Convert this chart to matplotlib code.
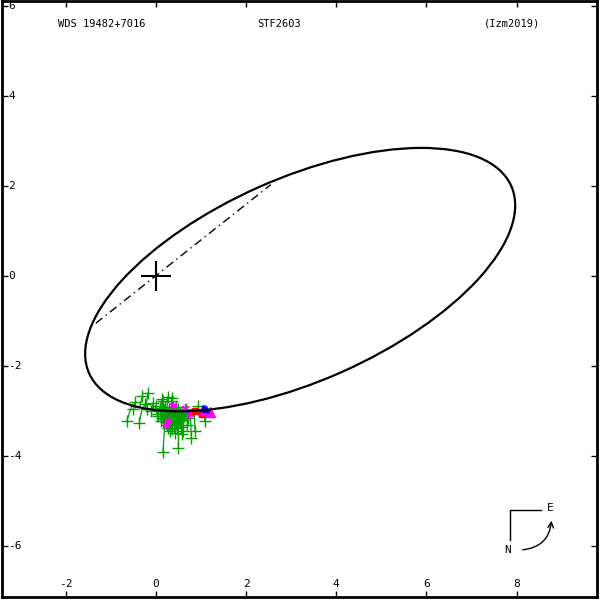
import numpy as np
import matplotlib.pyplot as plt
from matplotlib.patches import Ellipse

plt.rcParams['font.family'] = ['DejaVu Sans Mono']

# apparent orbit: centre, semi-axes, tilt of major axis (deg)
orb_center = (3.2, -0.08)
orb_a = 5.12
orb_b = 2.25
orb_angle = 24.0

# line of nodes
node_x = [-1.33, 2.55]
node_y = [-1.05, 2.03]

# micrometer / visual measures (green)
obs_x = [-0.30, -0.17, -0.50, -0.64, -0.37, 0.16, 0.50, 0.79, 0.87, 0.94,
         1.09, 0.26, 0.37, 0.13, -0.06, 0.72, 0.53, 0.02, 0.46, 0.31,
         0.61, 0.09, 0.24, 0.16, 0.35, 0.20, 0.30, 0.35, 0.40, 0.45,
         0.50, 0.55, 0.25, 0.40, 0.30, 0.15, 0.60, 0.50, 0.35, 0.65,
         0.10, -0.10, 0.70, 0.45, 0.20, -0.25, 0.05, 0.58, 0.42, 0.28,
         0.18, 0.33, 0.48, 0.38, 0.22, 0.55, 0.12, 0.43, 0.27, 0.62,
         -0.45, -0.20, 0.00, 0.68, 0.52]
obs_y = [-2.67, -2.59, -2.96, -3.22, -3.27, -3.91, -3.82, -3.59, -3.44, -2.89,
         -3.22, -2.69, -2.78, -2.74, -2.82, -3.15, -3.04, -3.07, -3.37, -3.44,
         -3.44, -2.93, -3.22, -2.78, -2.70, -3.18, -3.10, -3.20, -3.00, -3.15,
         -3.25, -3.10, -3.30, -3.30, -2.95, -3.15, -3.20, -2.95, -3.40, -3.05,
         -3.00, -3.00, -3.30, -2.90, -2.90, -2.85, -3.12, -3.50, -3.48, -3.02,
         -2.98, -3.05, -3.08, -3.13, -3.25, -3.35, -3.22, -3.28, -3.38, -3.12,
         -2.80, -2.95, -2.88, -2.95, -3.18]

# speckle measures (magenta asterisks)
spk_x = [0.38, 0.64, 0.75, 0.27, 0.22]
spk_y = [-2.86, -2.93, -3.07, -3.22, -3.30]

# other techniques
red_x = [0.87, 1.03]
red_y = [-3.00, -3.07]
mag_tri_x = [1.08, 1.20]
mag_tri_y = [-2.98, -3.01]
blue_tri_x = [1.04, 1.12]
blue_tri_y = [-2.93, -2.95]

xticks = [-2, 0, 2, 4, 6, 8]
yticks = [-6, -4, -2, 0, 2, 4, 6]

fig = plt.figure(figsize=(6, 6), dpi=100)
ax = fig.add_axes([0.0025, 0.0058, 0.9933, 0.9933])
ax.set_xlim(-3.42, 9.79)
ax.set_ylim(-7.12, 6.12)

# residual lines to nearest point on orbit
t = np.linspace(0, 2 * np.pi, 1440)
th = np.radians(orb_angle)
ex = orb_center[0] + orb_a * np.cos(t) * np.cos(th) - orb_b * np.sin(t) * np.sin(th)
ey = orb_center[1] + orb_a * np.cos(t) * np.sin(th) + orb_b * np.sin(t) * np.cos(th)
for x, y in zip(obs_x, obs_y):
    k = np.argmin((ex - x) ** 2 + (ey - y) ** 2)
    ax.plot([x, ex[k]], [y, ey[k]], color='#00a000', lw=0.9, zorder=2)
for x, y in zip(spk_x, spk_y):
    k = np.argmin((ex - x) ** 2 + (ey - y) ** 2)
    ax.plot([x, ex[k]], [y, ey[k]], color='magenta', lw=0.8, zorder=2)

ax.plot(obs_x, obs_y, ls='none', marker='+', ms=8, mew=1, color='#00a000', zorder=3)
ax.plot(spk_x, spk_y, ls='none', marker=(6, 2, 0), ms=6, mew=1, color='magenta', zorder=4)
ax.plot(red_x, red_y, ls='none', marker='s', ms=4, color='red', zorder=4)
ax.plot(mag_tri_x, mag_tri_y, ls='none', marker='^', ms=7, color='magenta', zorder=4)
ax.plot(blue_tri_x, blue_tri_y, ls='none', marker='^', ms=5, color='blue', zorder=5)

ax.add_patch(Ellipse(orb_center, 2 * orb_a, 2 * orb_b, angle=orb_angle,
                     fill=False, color='black', lw=1.6, zorder=6))
ax.plot(node_x, node_y, color='black', lw=1, ls=(0, (6, 3, 1, 3)), zorder=5)
ax.plot([0], [0], marker='+', ms=22, mew=1.5, color='black', zorder=7)

# ticks with labels inside the frame
ax.set_xticks(xticks)
ax.set_yticks(yticks)
ax.tick_params(direction='in', length=4, width=1, top=True, right=True,
               labelbottom=False, labelleft=False)
for v in xticks:
    ax.text(v, 0.021, str(v), transform=ax.get_xaxis_transform(),
            ha='center', va='center', fontsize=8)
for v in yticks:
    ax.text(0.011, v, str(v), transform=ax.get_yaxis_transform(),
            ha='left', va='center', fontsize=8)
for s in ax.spines.values():
    s.set_linewidth(2)

ax.text(0.168, 0.961, 'WDS 19482+7016', transform=ax.transAxes, ha='center', va='center', fontsize=7.5)
ax.text(0.466, 0.961, 'STF2603', transform=ax.transAxes, ha='center', va='center', fontsize=7.5)
ax.text(0.857, 0.961, '(Izm2019)', transform=ax.transAxes, ha='center', va='center', fontsize=7.5)

# orientation sign
ax.plot([0.854, 0.854, 0.905], [0.095, 0.146, 0.146], color='black', lw=1, transform=ax.transAxes)
ax.text(0.850, 0.078, 'N', transform=ax.transAxes, ha='center', va='center', fontsize=8)
ax.text(0.920, 0.148, 'E', transform=ax.transAxes, ha='center', va='center', fontsize=8)
ax.annotate('', xy=(0.923, 0.132), xytext=(0.870, 0.078),
            xycoords='axes fraction', textcoords='axes fraction',
            arrowprops=dict(arrowstyle='->', lw=1, color='black',
                            connectionstyle='arc3,rad=0.45'))

fig.savefig('out.png', dpi=100)
